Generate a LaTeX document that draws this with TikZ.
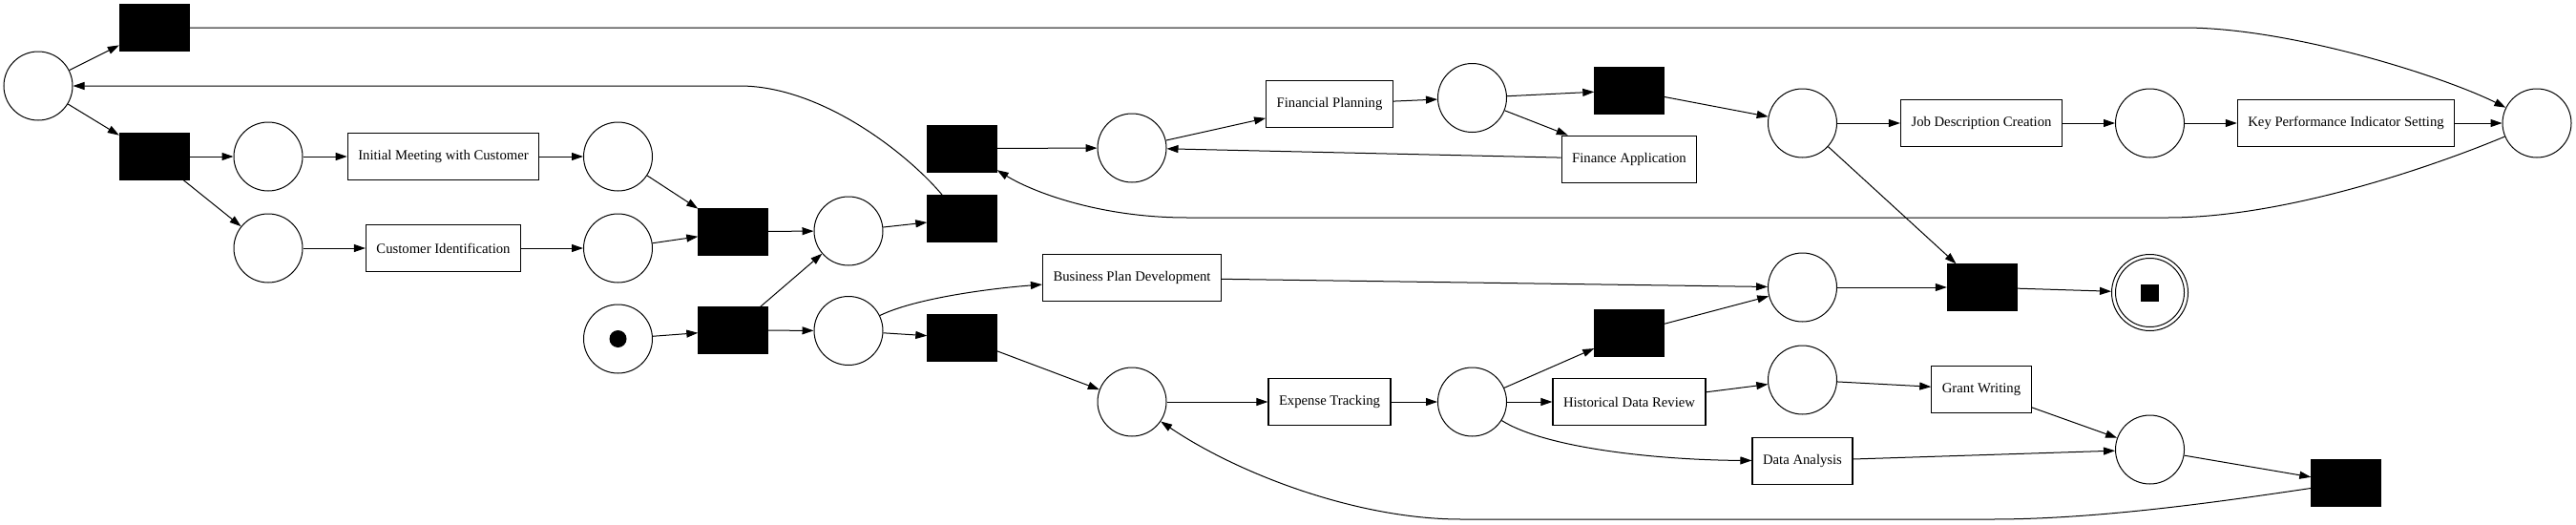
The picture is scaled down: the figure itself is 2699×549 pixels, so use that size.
\documentclass[tikz,border=0pt]{standalone}
\usepackage{fontspec}
\setmainfont{Liberation Serif}
\usetikzlibrary{arrows.meta}

\tikzset{
    place/.style={draw, circle, minimum size=72pt, inner sep=0pt, line width=1pt},
    silent/.style={draw, fill=black, minimum width=73pt, minimum height=49pt, inner sep=0pt},
    task/.style={draw, line width=1.2pt, minimum height=49pt, inner xsep=11pt, font=\fontsize{14.7}{17}\selectfont},
    arc/.style={line width=1pt, -{Triangle[length=12pt,width=8pt]}}
}

\begin{document}
\begin{tikzpicture}[x=1pt,y=-1pt]

    \useasboundingbox (0,0) rectangle (2699,549);

    % places
    \node[place] (pstart) at (40,90) {};
    \node[place] (pa) at (281,164) {};
    \node[place] (pb) at (281,260) {};
    \node[place] (pc) at (647.5,164) {};
    \node[place] (pd) at (647.5,260) {};
    \node[place] (psrc) at (647.5,355) {};
    \node[place] (pe) at (889,242) {};
    \node[place] (pf) at (889,346.5) {};
    \node[place] (pfp) at (1186,155) {};
    \node[place] (pg) at (1542.5,102.5) {};
    \node[place] (pi) at (1888.5,129) {};
    \node[place] (pj) at (2252.5,129) {};
    \node[place] (pright) at (2658,129) {};
    \node[place] (pk) at (1888.5,301) {};
    \node[place] (pet) at (1186,421) {};
    \node[place] (pl) at (1542.5,421) {};
    \node[place] (pn) at (1888.5,398) {};
    \node[place] (po) at (2252.5,471) {};
    \node[place, minimum size=80pt] (pfin) at (2252.5,306.5) {};
    \draw[line width=1pt] (pfin.center) circle (36pt);

    \fill[black] (psrc.center) circle (9pt);
    \fill[black] (2243,298) rectangle (2262,316);

    % silent transitions
    \node[silent] (ttop) at (161.5,29) {};
    \node[silent] (t1) at (161.5,164) {};
    \node[silent] (tjoin) at (768,242.5) {};
    \node[silent] (tstart) at (768,346) {};
    \node[silent] (tloop) at (1008,229) {};
    \node[silent] (tup) at (1008,155.5) {};
    \node[silent] (tskip) at (1008,354) {};
    \node[silent] (th) at (1707,94.5) {};
    \node[silent] (tm) at (1707,349) {};
    \node[silent] (tend) at (2076.5,301) {};
    \node[silent] (tq) at (2458,506) {};

    % labelled transitions
    \node[task] (imc) at (464.5,164) {Initial Meeting with Customer};
    \node[task] (ci) at (464.5,260) {Customer Identification};
    \node[task] (fp) at (1393,109) {Financial Planning};
    \node[task] (fa) at (1707,166.7) {Finance Application};
    \node[task] (bpd) at (1186,291) {Business Plan Development};
    \node[task] (et) at (1393,421) {Expense Tracking};
    \node[task] (hdr) at (1707,421) {Historical Data Review};
    \node[task] (jdc) at (2076,129) {Job Description Creation};
    \node[task] (kpi) at (2458,129) {Key Performance Indicator Setting};
    \node[task] (gw) at (2076,408) {Grant Writing};
    \node[task] (da) at (1888.5,482.7) {Data Analysis};

    % arcs
    \draw[arc] (pstart) -- (ttop);
    \draw[arc] (pstart) -- (t1);
    \draw[arc] (ttop) -- (2288,29) .. controls (2400,29) and (2560,80) .. (pright);
    \draw[arc] (t1) -- (pa);
    \draw[arc] (t1) -- (pb);
    \draw[arc] (pa) -- (imc);
    \draw[arc] (imc) -- (pc);
    \draw[arc] (pb) -- (ci);
    \draw[arc] (ci) -- (pd);
    \draw[arc] (pc) -- (tjoin);
    \draw[arc] (pd) -- (tjoin);
    \draw[arc] (tjoin) -- (pe);
    \draw[arc] (psrc) -- (tstart);
    \draw[arc] (tstart) -- (pe);
    \draw[arc] (tstart) -- (pf);
    \draw[arc] (pe) -- (tloop);
    \draw[arc] (tloop) .. controls (950,160) and (860,90) .. (775,90) -- (pstart);
    \draw[arc] (pf) .. controls (960,312) and (1040,302) .. (bpd);
    \draw[arc] (pf) -- (tskip);
    \draw[arc] (tup) -- (pfp);
    \draw[arc] (pfp) -- (fp);
    \draw[arc] (fp) -- (pg);
    \draw[arc] (pg) -- (th);
    \draw[arc] (pg) -- (fa);
    \draw[arc] (fa) -- (pfp);
    \draw[arc] (th) -- (pi);
    \draw[arc] (pi) -- (jdc);
    \draw[arc] (jdc) -- (pj);
    \draw[arc] (pj) -- (kpi);
    \draw[arc] (kpi) -- (pright);
    \draw[arc] (pright) .. controls (2560,170) and (2400,228) .. (2271,228) -- (1244,228) .. controls (1150,228) and (1080,200) .. (tup);
    \draw[arc] (pi) -- (tend);
    \draw[arc] (bpd) -- (pk);
    \draw[arc] (tskip) -- (pet);
    \draw[arc] (pet) -- (et);
    \draw[arc] (et) -- (pl);
    \draw[arc] (pl) -- (tm);
    \draw[arc] (pl) -- (hdr);
    \draw[arc] (pl) .. controls (1620,470) and (1740,482) .. (da);
    \draw[arc] (tm) -- (pk);
    \draw[arc] (hdr) -- (pn);
    \draw[arc] (pn) -- (gw);
    \draw[arc] (gw) -- (po);
    \draw[arc] (da) -- (po);
    \draw[arc] (po) -- (tq);
    \draw[arc] (tq) .. controls (2330,525) and (2200,544) .. (2087,544) -- (1531,544) .. controls (1420,544) and (1295,495) .. (pet);
    \draw[arc] (pk) -- (tend);
    \draw[arc] (tend) -- (pfin);

\end{tikzpicture}
\end{document}
